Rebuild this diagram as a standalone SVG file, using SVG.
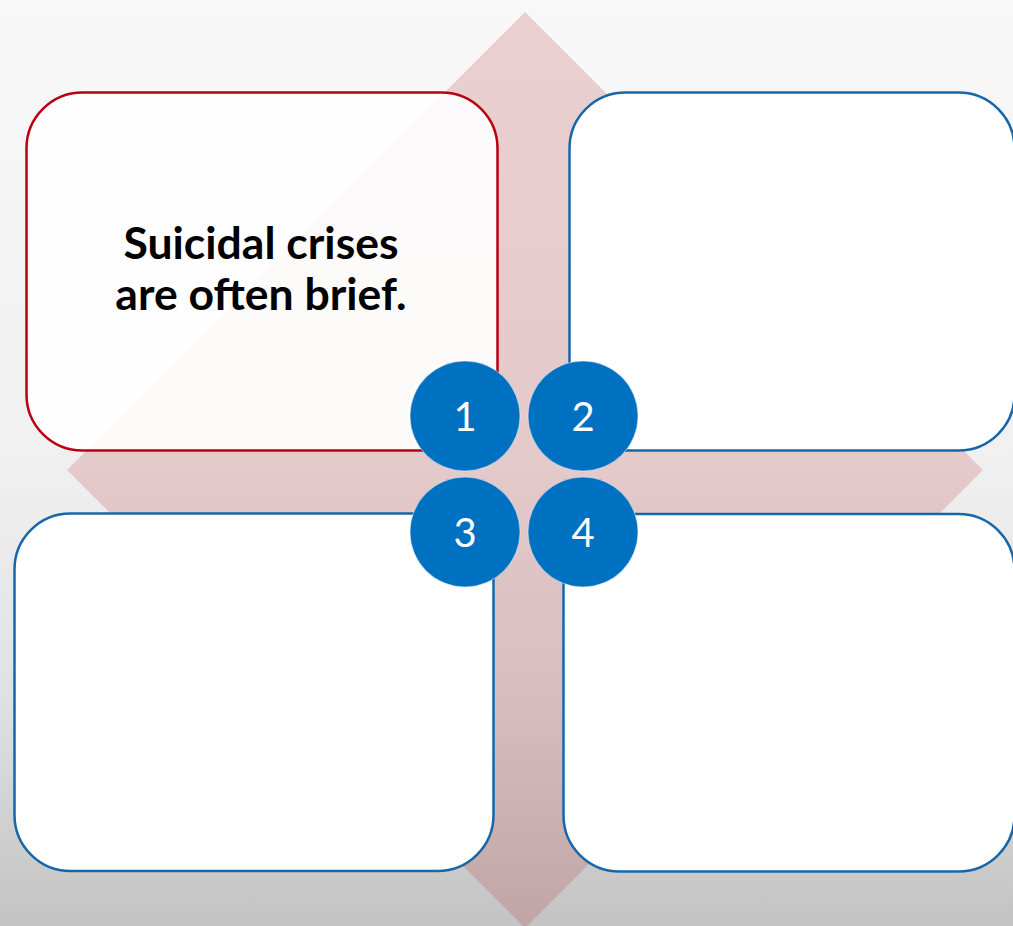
<svg xmlns="http://www.w3.org/2000/svg" width="1013" height="926" viewBox="0 0 1013 926">
  <defs>
    <linearGradient id="bg" x1="0" y1="0" x2="0" y2="1">
      <stop offset="0" stop-color="#f8f8f8"/>
      <stop offset="0.5" stop-color="#f0f0f0"/>
      <stop offset="0.75" stop-color="#e1e1e1"/>
      <stop offset="1" stop-color="#c3c3c3"/>
    </linearGradient>
  </defs>
  <style>
    .box { fill: #ffffff; stroke-width: 2.5; }
    .red { stroke: #b8000f; fill-opacity: 0.9; }
    .blue { stroke: #1667aa; }
    .num { fill: #0070c0; stroke: #ffffff; stroke-opacity: 0.5; stroke-width: 1; }
    .numtxt { font-family: Lato, "Open Sans", "Liberation Sans", sans-serif; font-size: 40px; fill: #ffffff; text-anchor: middle; }
    .main { font-family: Lato, "Open Sans", "Liberation Sans", sans-serif; font-weight: bold; font-size: 44.5px; fill: #000000; text-anchor: middle; }
  </style>
  <rect x="0" y="0" width="1013" height="926" fill="url(#bg)"/>
  <g id="arrows">
    <polygon points="525,12 983,470 525,928 67,470" fill="rgb(183,48,58)" fill-opacity="0.2"/>
  </g>
  <g id="box1">
    <rect class="box red" x="26.5" y="92.5" width="471" height="358" rx="56" ry="56"/>
    <text class="main" x="261" y="259">Suicidal crises</text>
    <text class="main" x="261" y="310">are often brief.</text>
  </g>
  <g id="box2">
    <rect class="box blue" x="569.5" y="92.5" width="445" height="358" rx="56" ry="56"/>
  </g>
  <g id="box3">
    <rect class="box blue" x="14.5" y="513.5" width="479" height="357.5" rx="56" ry="56"/>
  </g>
  <g id="box4">
    <rect class="box blue" x="563.5" y="514" width="451" height="357.5" rx="56" ry="56"/>
  </g>
  <g id="n1">
    <circle class="num" cx="465" cy="416" r="55"/>
    <text class="numtxt" x="465" y="431">1</text>
  </g>
  <g id="n2">
    <circle class="num" cx="583" cy="416" r="55"/>
    <text class="numtxt" x="583" y="431">2</text>
  </g>
  <g id="n3">
    <circle class="num" cx="465" cy="532" r="55"/>
    <text class="numtxt" x="465" y="547">3</text>
  </g>
  <g id="n4">
    <circle class="num" cx="583" cy="532" r="55"/>
    <text class="numtxt" x="583" y="547">4</text>
  </g>
</svg>
